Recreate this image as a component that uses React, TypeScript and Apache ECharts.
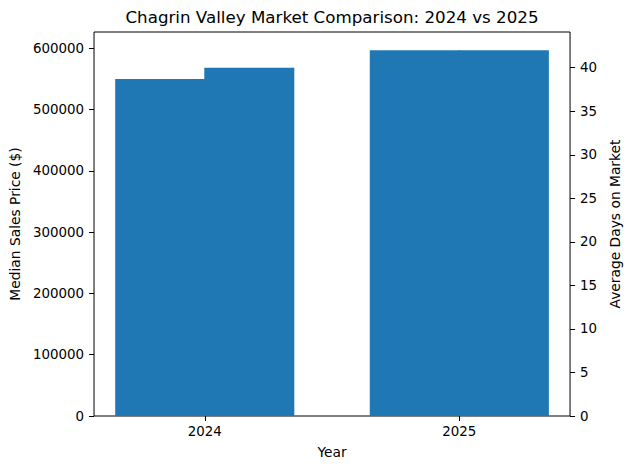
import React, { useEffect, useRef } from 'react';
import * as echarts from 'echarts';
import type { EChartsOption } from 'echarts';

const years: string[] = ['2024', '2025'];
const medianPrice: number[] = [550000, 597000];
const avgDays: number[] = [40, 42];
const priceTicks: number[] = [0, 100000, 200000, 300000, 400000, 500000, 600000];
const daysTicks: number[] = [0, 5, 10, 15, 20, 25, 30, 35, 40];

const FONT = 'DejaVu Sans';
const BLUE = '#1f77b4';
const OFFSET = 0.175;
const TICK_SIZE = 13.4;
const NAME_SIZE = 13.8;

const yearPos = years.map((_, i) => i);

const option: EChartsOption = {
  animation: false,
  textStyle: { fontFamily: FONT, color: '#000' },
  title: {
    text: 'Chagrin Valley Market Comparison: 2024 vs 2025',
    left: 332,
    textAlign: 'center',
    top: 8,
    padding: 0,
    textStyle: { fontFamily: FONT, fontSize: 16.7, fontWeight: 'normal', color: '#000' },
  },
  grid: {
    left: 92,
    right: 57,
    top: 32,
    bottom: 54,
    show: true,
    borderColor: '#000',
    borderWidth: 1,
    backgroundColor: 'transparent',
  },
  xAxis: {
    type: 'value',
    min: -0.435,
    max: 1.435,
    name: 'Year',
    nameLocation: 'middle',
    nameGap: 29,
    nameTextStyle: { fontFamily: FONT, fontSize: NAME_SIZE, color: '#000' },
    axisLine: { show: false, onZero: false },
    splitLine: { show: false },
    axisTick: { show: true, length: 5, customValues: yearPos, lineStyle: { color: '#000' } },
    axisLabel: {
      customValues: yearPos,
      margin: 9,
      fontFamily: FONT,
      fontSize: TICK_SIZE,
      color: '#000',
      formatter: (v: number) => years[Math.round(v)] ?? '',
    },
  },
  yAxis: [
    {
      type: 'value',
      min: 0,
      max: 626850,
      position: 'left',
      name: 'Median Sales Price ($)',
      nameLocation: 'middle',
      nameGap: 70,
      nameTextStyle: { fontFamily: FONT, fontSize: NAME_SIZE, color: '#000' },
      axisLine: { show: false, onZero: false },
      splitLine: { show: false },
      axisTick: { show: true, length: 5, customValues: priceTicks, lineStyle: { color: '#000' } },
      axisLabel: {
        customValues: priceTicks,
        margin: 10,
        fontFamily: FONT,
        fontSize: TICK_SIZE,
        color: '#000',
        formatter: (v: number) => String(v),
      },
    },
    {
      type: 'value',
      min: 0,
      max: 44.1,
      position: 'right',
      name: 'Average Days on Market',
      nameLocation: 'middle',
      nameGap: 25,
      nameTextStyle: { fontFamily: FONT, fontSize: NAME_SIZE, color: '#000' },
      axisLine: { show: false, onZero: false },
      splitLine: { show: false },
      axisTick: { show: true, length: 5, customValues: daysTicks, lineStyle: { color: '#000' } },
      axisLabel: {
        customValues: daysTicks,
        margin: 10,
        fontFamily: FONT,
        fontSize: TICK_SIZE,
        color: '#000',
        formatter: (v: number) => String(v),
      },
    },
  ],
  series: [
    {
      type: 'bar',
      name: 'Median Sales Price',
      yAxisIndex: 0,
      barWidth: 90,
      barGap: '-100%',
      itemStyle: { color: BLUE },
      data: medianPrice.map((v, i) => [i - OFFSET, v]),
    },
    {
      type: 'bar',
      name: 'Average Days on Market',
      yAxisIndex: 1,
      barWidth: 90,
      barGap: '-100%',
      itemStyle: { color: BLUE },
      data: avgDays.map((v, i) => [i + OFFSET, v]),
    },
  ],
};

const App: React.FC = () => {
  const chartRef = useRef<HTMLDivElement>(null);

  useEffect(() => {
    document.body.style.margin = '0';
    if (!chartRef.current) return;
    const chart = echarts.init(chartRef.current, undefined, { renderer: 'svg' });
    chart.setOption(option);
    return () => {
      chart.dispose();
    };
  }, []);

  return <div ref={chartRef} style={{ width: '630px', height: '470px', background: '#fff' }} />;
};

export default App;
